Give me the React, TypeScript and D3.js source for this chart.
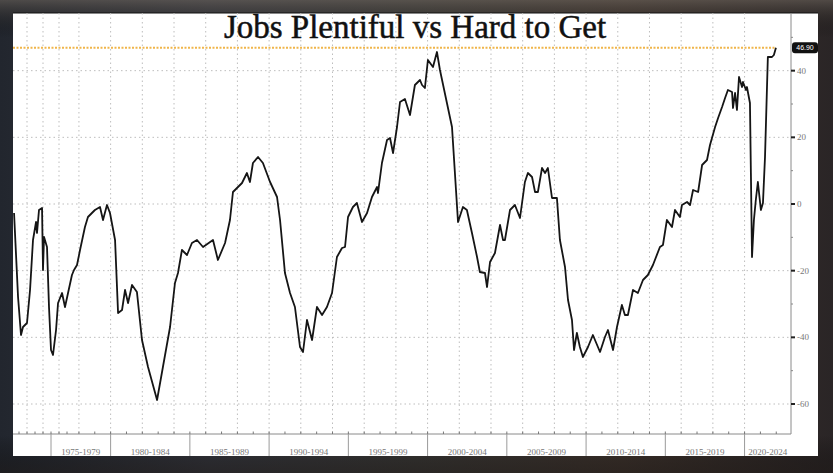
import React from "react";
import * as d3 from "d3";

// Jobs Plentiful minus Jobs Hard to Get (Conference Board labor differential)
const years: number[] = [
  1970.38, 1970.88, 1971.25, 1971.5, 1972.0, 1972.38, 1972.75, 1973.13, 1973.25, 1973.5,
  1973.88, 1974.0, 1974.13, 1974.5, 1974.75, 1975.0, 1975.25, 1975.63, 1975.88, 1976.38,
  1976.75, 1977.13, 1977.56, 1977.69, 1977.88, 1978.07, 1978.38, 1978.57, 1978.82, 1979.01,
  1979.33, 1979.52, 1979.77, 1979.96, 1980.28, 1980.47, 1980.72, 1980.91, 1981.1, 1981.35,
  1981.66, 1981.98, 1982.36, 1982.93, 1983.3, 1983.75, 1984.06, 1984.25, 1984.5, 1984.82,
  1985.13, 1985.45, 1985.83, 1986.46, 1986.77, 1987.22, 1987.53, 1987.72, 1988.29, 1988.6,
  1988.79, 1988.98, 1989.3, 1989.61, 1990.06, 1990.5, 1990.69, 1991.0, 1991.32, 1991.63,
  1991.95, 1992.14, 1992.39, 1992.71, 1993.02, 1993.34, 1993.65, 1993.97, 1994.28, 1994.6,
  1994.79, 1994.98, 1995.29, 1995.54, 1995.86, 1996.18, 1996.49, 1996.81, 1996.87, 1997.12,
  1997.44, 1997.63, 1997.82, 1998.07, 1998.26, 1998.57, 1998.89, 1999.2, 1999.52, 1999.65,
  1999.83, 2000.02, 2000.34, 2000.59, 2000.78, 2001.22, 2001.54, 2001.92, 2002.23, 2002.48,
  2002.8, 2003.12, 2003.3, 2003.62, 2003.75, 2003.94, 2004.25, 2004.57, 2004.76, 2004.88,
  2005.2, 2005.51, 2005.83, 2006.14, 2006.33, 2006.59, 2006.78, 2006.96, 2007.22, 2007.41,
  2007.59, 2007.85, 2008.16, 2008.35, 2008.67, 2008.86, 2009.11, 2009.24, 2009.42, 2009.61,
  2009.8, 2010.12, 2010.43, 2010.88, 2011.19, 2011.38, 2011.7, 2011.95, 2012.26, 2012.45,
  2012.64, 2012.96, 2013.27, 2013.59, 2013.9, 2014.22, 2014.66, 2014.85, 2015.1, 2015.42,
  2015.61, 2015.92, 2016.05, 2016.37, 2016.56, 2016.75, 2017.07, 2017.32, 2017.63, 2017.82,
  2018.14, 2018.33, 2018.58, 2018.77, 2018.95, 2019.21, 2019.27, 2019.4, 2019.52, 2019.65,
  2019.84, 2019.9, 2020.09, 2020.15, 2020.34, 2020.4, 2020.47, 2020.59, 2020.71, 2020.84,
  2021.03, 2021.16, 2021.29, 2021.41, 2021.47, 2021.73, 2021.85, 2021.98,
];
const values: number[] = [
  -2.7, -27.9, -39.3, -36.9, -35.7, -25.8, -10.8, -5.4, -8.7, -1.8,
  -1.2, -19.8, -9.9, -12.9, -30.9, -43.8, -45.3, -37.8, -29.7, -26.7,
  -30.9, -26.7, -21.3, -19.8, -18.3, -13.8, -6.9, -3.9, -2.7, -1.8,
  -0.9, -4.8, -0.3, -2.7, -10.8, -32.7, -31.8, -25.8, -29.7, -24.3,
  -26.4, -40.8, -48.9, -58.8, -48.9, -36.9, -23.7, -20.7, -13.8, -15.3,
  -11.7, -10.8, -12.9, -10.8, -16.8, -11.7, -4.8, 3.6, 6.3, 9.3,
  6.6, 12.3, 14.1, 12.3, 6.6, 2.1, -4.8, -20.7, -26.7, -30.9,
  -42.9, -44.4, -34.8, -40.8, -30.9, -33.3, -30.9, -26.7, -15.9, -13.2,
  -12.9, -3.9, -0.9, 0.3, -5.4, -2.7, 2.1, 5.1, 3.3, 12.3,
  19.2, 19.8, 15.3, 23.1, 30.6, 31.5, 26.7, 35.7, 37.2, 35.7,
  34.8, 43.2, 41.1, 45.6, 40.2, 30.3, 23.1, -5.4, -0.9, -1.8,
  -8.7, -15.9, -20.4, -20.7, -24.9, -17.4, -14.7, -6.3, -10.8, -10.8,
  -1.8, -0.3, -4.2, 6.6, 9.3, 8.1, 3.6, 3.6, 10.8, 9.3,
  10.8, 1.8, 1.8, -10.8, -18.9, -28.8, -34.8, -43.8, -38.7, -42.9,
  -45.9, -42.9, -39.3, -44.4, -39.9, -37.8, -43.8, -36.9, -30.3, -33.3,
  -33.3, -25.8, -26.7, -22.8, -21.3, -18.3, -12.9, -12.3, -4.8, -6.9,
  -1.8, -3.9, -0.3, 0.6, -0.3, 4.2, 3.6, 11.7, 13.2, 17.7,
  23.1, 25.8, 29.1, 31.8, 34.2, 33.6, 28.8, 33.3, 28.2, 38.1,
  35.1, 36.6, 34.2, 35.1, 30.3, 9.3, -15.9, -4.8, 1.2, 6.6,
  -1.8, 0.3, 14.1, 34.2, 44.1, 44.1, 44.7, 46.9,
];

const lastValue = 46.9;
const yTicks: number[] = [40, 20, 0, -20, -40, -60];
const yMinorTicks: number[] = [50, 30, 10, -10, -30, -50];
const periodStarts: number[] = [1975, 1980, 1985, 1990, 1995, 2000, 2005, 2010, 2015, 2020];
const periodLabels: string[] = [
  "1975-1979", "1980-1984", "1985-1989", "1990-1994", "1995-1999",
  "2000-2004", "2005-2009", "2010-2014", "2015-2019", "2020-2024",
];
const gridYears: number[] = d3.range(1972, 2021, 2);
const tickYears: number[] = d3.range(1971, 2023, 1);
const title = "Jobs Plentiful vs Hard to Get";

const W = 833;
const H = 473;
const panel = { x0: 13, y0: 13, x1: 818, y1: 456 };
const plot = { left: 13, right: 791, top: 13, bottom: 434 };

// Bloomberg plots by observation: early bimonthly data takes half the width per year.
const x = d3
  .scaleLinear()
  .domain([1970.25, 1977.5, 2022.93])
  .range([plot.left, 71, plot.right]);
const y = d3.scaleLinear().domain([-69, 57.3]).range([434, 13]);

export default function App() {
  const pts: [number, number][] = years.map((yr, i) => [yr, values[i]]);
  const line = d3
    .line<[number, number]>()
    .x((d) => x(d[0]))
    .y((d) => y(d[1]));
  const lastX = x(years[years.length - 1]);
  const grid = "#bdbdbd";
  const font = "'Liberation Serif', 'DejaVu Serif', serif";

  return (
    <svg
      width={W}
      height={H}
      style={{ position: "absolute", left: 0, top: 0 }}
      xmlns="http://www.w3.org/2000/svg"
    >
      <defs>
        <linearGradient id="bgH" x1="0" y1="0" x2="1" y2="0">
          <stop offset="0" stopColor="#22262e" />
          <stop offset="0.25" stopColor="#363840" />
          <stop offset="0.5" stopColor="#3b3a38" />
          <stop offset="0.75" stopColor="#40352f" />
          <stop offset="1" stopColor="#2a2526" />
        </linearGradient>
        <linearGradient id="bgV" x1="0" y1="0" x2="0" y2="1">
          <stop offset="0" stopColor="#6a625a" stopOpacity="0.6" />
          <stop offset="0.08" stopColor="#000" stopOpacity="0" />
          <stop offset="0.92" stopColor="#000" stopOpacity="0" />
          <stop offset="1" stopColor="#1a1512" stopOpacity="0.5" />
        </linearGradient>
      </defs>
      <rect x={0} y={0} width={W} height={H} fill="url(#bgH)" />
      <rect x={0} y={0} width={W} height={H} fill="url(#bgV)" />

      {/* white panel */}
      <rect
        x={panel.x0}
        y={panel.y0}
        width={panel.x1 - panel.x0}
        height={panel.y1 - panel.y0}
        fill="#ffffff"
      />
      <line x1={panel.x0} x2={panel.x1} y1={panel.y0} y2={panel.y0} stroke="#111" strokeWidth={1.2} />

      {/* grid */}
      {gridYears.map((g) => (
        <line
          key={"gx" + g}
          x1={x(g)}
          x2={x(g)}
          y1={plot.top}
          y2={plot.bottom}
          stroke={grid}
          strokeWidth={1}
          strokeDasharray="1.5,3"
        />
      ))}
      {yTicks.map((t) => (
        <line
          key={"gy" + t}
          x1={plot.left}
          x2={plot.right}
          y1={y(t)}
          y2={y(t)}
          stroke={grid}
          strokeWidth={1}
          strokeDasharray="1.5,3"
        />
      ))}

      {/* title */}
      <text
        x={415}
        y={38}
        textAnchor="middle"
        fontFamily={font}
        fontSize={33}
        fill="#111"
        stroke="#111"
        strokeWidth={0.5}
      >
        {title}
      </text>

      {/* last value reference line */}
      <line
        x1={plot.left}
        x2={lastX}
        y1={y(lastValue)}
        y2={y(lastValue)}
        stroke="#f0b54a"
        strokeWidth={2}
        strokeDasharray="2,1.5"
      />

      {/* series */}
      <path d={line(pts) || ""} fill="none" stroke="#151515" strokeWidth={1.8} strokeLinejoin="round" />

      {/* axes */}
      <line x1={plot.right} x2={plot.right} y1={plot.top} y2={plot.bottom} stroke="#8a8a8a" strokeWidth={1} />
      <line x1={plot.left} x2={plot.right} y1={plot.bottom} y2={plot.bottom} stroke="#8a8a8a" strokeWidth={1} />

      {yTicks.map((t) => (
        <g key={"yt" + t}>
          <line x1={plot.right} x2={plot.right + 4} y1={y(t)} y2={y(t)} stroke="#222" strokeWidth={2} />
          <text
            x={plot.right + 6}
            y={y(t) + 3}
            fontFamily={font}
            fontSize={9}
            fill="#777"
          >
            {t}
          </text>
        </g>
      ))}
      {yMinorTicks.map((t) => (
        <line key={"ym" + t} x1={plot.right} x2={plot.right + 2} y1={y(t)} y2={y(t)} stroke="#888" strokeWidth={1} />
      ))}

      {/* last value tag */}
      <rect x={plot.right + 1} y={y(lastValue) - 5.5} width={26} height={11} rx={3} fill="#111" />
      <text
        x={plot.right + 14}
        y={y(lastValue) + 2.5}
        textAnchor="middle"
        fontFamily="'Liberation Sans', Arial, sans-serif"
        fontSize={7}
        fill="#fff"
      >
        {lastValue.toFixed(2)}
      </text>

      {/* bottom year ticks */}
      {tickYears.map((t) => (
        <line key={"xt" + t} x1={x(t)} x2={x(t)} y1={plot.bottom} y2={plot.bottom - 2.5} stroke="#777" strokeWidth={1} />
      ))}

      {/* period band */}
      {periodStarts.map((p, i) => {
        const x0 = x(p);
        const x1 = i + 1 < periodStarts.length ? x(periodStarts[i + 1]) : plot.right;
        return (
          <g key={"p" + p}>
            <line x1={x0} x2={x0} y1={plot.bottom} y2={panel.y1} stroke="#9a9a9a" strokeWidth={1} />
            <text
              x={(x0 + x1) / 2}
              y={455}
              textAnchor="middle"
              fontFamily={font}
              fontSize={9}
              fill="#777"
            >
              {periodLabels[i]}
            </text>
          </g>
        );
      })}
    </svg>
  );
}
